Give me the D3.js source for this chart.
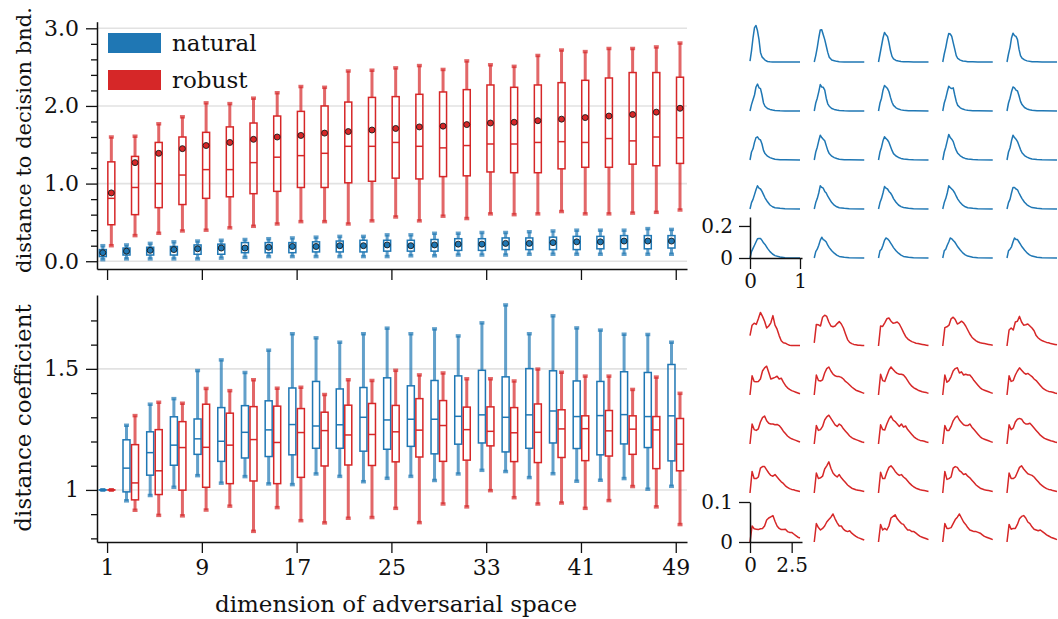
<!DOCTYPE html>
<html>
<head>
<meta charset="utf-8">
<script src="https://cdn.jsdelivr.net/npm/d3@7"></script>
<style>
  body { margin: 0; background: #fff; }
  svg { display: block; }
  text { font-family: "DejaVu Serif", serif; fill: #111; }
</style>
</head>
<body>
<div id="chart"></div>
<script>
const dims = [1, 3, 5, 7, 9, 11, 13, 15, 17, 19, 21, 23, 25, 27, 29, 31, 33, 35, 37, 39, 41, 43, 45, 47, 49];
const xTickValues = [1, 9, 17, 25, 33, 41, 49];

// top panel: distance to decision boundary, natural
const natDistLo = [.02, .03, .03, .03, .03, .04, .05, .06, .06, .06, .06, .06, .06, .07, .07, .08, .08, .08, .09, .09, .09, .09, .09, .09, .09];
const natDistQ1 = [.06, .08, .08, .08, .09, .09, .11, .11, .11, .12, .12, .12, .13, .13, .13, .14, .14, .15, .15, .15, .15, .16, .16, .16, .17];
const natDistMed = [.10, .12, .13, .14, .15, .16, .16, .17, .18, .18, .19, .19, .20, .19, .20, .21, .21, .22, .22, .23, .24, .24, .25, .25, .25];
const natDistQ3 = [.15, .17, .18, .19, .21, .22, .24, .24, .24, .25, .26, .27, .27, .27, .28, .29, .29, .30, .30, .31, .32, .32, .33, .33, .33];
const natDistHi = [.20, .21, .23, .25, .26, .27, .28, .29, .30, .31, .32, .32, .34, .34, .36, .36, .37, .37, .38, .39, .40, .40, .40, .42, .41];
const natDistMean = [.11, .13, .14, .15, .16, .17, .17, .18, .19, .19, .20, .20, .21, .20, .21, .22, .22, .23, .23, .24, .25, .25, .26, .26, .26];

// top panel: robust
const robDistLo = [.20, .33, .36, .39, .40, .43, .45, .48, .51, .51, .48, .52, .57, .52, .58, .55, .61, .60, .61, .64, .61, .61, .62, .63, .66];
const robDistQ1 = [.47, .60, .69, .73, .81, .83, .87, .90, .95, .95, 1.01, 1.03, 1.07, 1.06, 1.09, 1.10, 1.15, 1.14, 1.14, 1.19, 1.21, 1.21, 1.25, 1.23, 1.26];
const robDistMed = [.81, .95, 1.00, 1.11, 1.18, 1.18, 1.27, 1.34, 1.36, 1.39, 1.48, 1.48, 1.53, 1.48, 1.46, 1.49, 1.51, 1.51, 1.53, 1.54, 1.53, 1.58, 1.55, 1.60, 1.59];
const robDistQ3 = [1.28, 1.35, 1.53, 1.60, 1.66, 1.73, 1.78, 1.87, 1.93, 2.00, 2.05, 2.11, 2.12, 2.15, 2.18, 2.21, 2.27, 2.24, 2.27, 2.30, 2.33, 2.36, 2.43, 2.43, 2.37];
const robDistHi = [1.60, 1.61, 1.77, 1.86, 2.04, 2.03, 2.10, 2.17, 2.25, 2.24, 2.45, 2.46, 2.49, 2.52, 2.47, 2.58, 2.53, 2.51, 2.65, 2.72, 2.70, 2.74, 2.74, 2.76, 2.81];
const robDistMean = [.88, 1.27, 1.39, 1.45, 1.49, 1.53, 1.57, 1.60, 1.62, 1.65, 1.67, 1.69, 1.71, 1.73, 1.74, 1.76, 1.78, 1.79, 1.81, 1.83, 1.85, 1.87, 1.89, 1.92, 1.97];

// bottom panel: distance coefficient, natural
const natCoefLo = [1, .955, .977, 1.011, 1.059, 1.028, 1.055, 1.025, 1.022, 1.066, 1.056, 1.034, 1.048, 1.056, 1.039, 1.066, 1.081, 1.076, 1.051, 1.067, 1.036, 1.040, 1.047, 1.003, 1.015];
const natCoefQ1 = [1, .992, 1.061, 1.102, 1.147, 1.118, 1.132, 1.138, 1.145, 1.172, 1.172, 1.160, 1.168, 1.180, 1.149, 1.189, 1.194, 1.157, 1.172, 1.194, 1.171, 1.145, 1.190, 1.175, 1.120];
const natCoefMed = [1, 1.090, 1.154, 1.185, 1.211, 1.201, 1.238, 1.248, 1.270, 1.264, 1.269, 1.300, 1.289, 1.292, 1.292, 1.304, 1.310, 1.300, 1.310, 1.326, 1.303, 1.307, 1.311, 1.303, 1.306];
const natCoefQ3 = [1, 1.207, 1.240, 1.302, 1.293, 1.340, 1.348, 1.368, 1.421, 1.448, 1.417, 1.423, 1.463, 1.430, 1.452, 1.471, 1.494, 1.467, 1.501, 1.492, 1.450, 1.448, 1.488, 1.485, 1.518];
const natCoefHi = [1, 1.267, 1.354, 1.377, 1.493, 1.537, 1.485, 1.577, 1.645, 1.628, 1.610, 1.645, 1.668, 1.645, 1.665, 1.636, 1.690, 1.764, 1.645, 1.719, 1.669, 1.660, 1.643, 1.642, 1.610];

// bottom panel: robust
const robCoefLo = [1, .916, .895, .893, .917, .933, .829, .927, .873, .864, .883, .886, .924, .865, .942, .930, .997, .968, .942, .946, .924, .956, 1.014, .930, .857];
const robCoefQ1 = [1, .959, .981, .999, 1.011, 1.026, 1.037, 1.026, 1.052, 1.099, 1.103, 1.101, 1.116, 1.136, 1.118, 1.123, 1.182, 1.117, 1.113, 1.134, 1.121, 1.140, 1.147, 1.088, 1.079];
const robCoefMed = [1, 1.029, 1.079, 1.175, 1.176, 1.185, 1.208, 1.196, 1.237, 1.245, 1.227, 1.229, 1.240, 1.247, 1.266, 1.249, 1.242, 1.236, 1.238, 1.252, 1.253, 1.244, 1.251, 1.248, 1.189];
const robCoefQ3 = [1, 1.187, 1.249, 1.282, 1.354, 1.317, 1.344, 1.346, 1.336, 1.321, 1.350, 1.357, 1.349, 1.377, 1.369, 1.342, 1.343, 1.340, 1.355, 1.331, 1.306, 1.328, 1.306, 1.303, 1.295];
const robCoefHi = [1, 1.307, 1.362, 1.358, 1.419, 1.410, 1.455, 1.420, 1.424, 1.394, 1.455, 1.452, 1.494, 1.475, 1.483, 1.459, 1.459, 1.450, 1.499, 1.486, 1.470, 1.470, 1.415, 1.466, 1.399];

// small multiples: density of distances (natural), one curve per dimension
const natDensX = [0, 0.03, 0.06, 0.09, 0.12, 0.15, 0.18, 0.21, 0.24, 0.27, 0.30, 0.35, 0.40, 0.45, 0.50, 0.60, 0.70, 1.0];
const natDens = [
  [0.006, 0.07, 0.15, 0.215, 0.228, 0.195, 0.14, 0.06, 0.032, 0.022, 0.012, 0.003, 0.001, 0, 0, 0, 0, 0],
  [0, 0.04, 0.09, 0.15, 0.20, 0.202, 0.17, 0.14, 0.10, 0.06, 0.03, 0.012, 0.008, 0.004, 0.002, 0, 0, 0],
  [0, 0.05, 0.10, 0.15, 0.185, 0.17, 0.16, 0.12, 0.07, 0.035, 0.02, 0.01, 0.006, 0.003, 0.002, 0.001, 0, 0],
  [0, 0.05, 0.09, 0.14, 0.178, 0.175, 0.16, 0.12, 0.08, 0.04, 0.022, 0.012, 0.006, 0.004, 0.002, 0.001, 0, 0],
  [0, 0.05, 0.09, 0.15, 0.18, 0.165, 0.16, 0.14, 0.08, 0.04, 0.024, 0.013, 0.007, 0.004, 0.002, 0.001, 0, 0],
  [0, 0.04, 0.07, 0.10, 0.15, 0.168, 0.145, 0.14, 0.10, 0.05, 0.03, 0.016, 0.01, 0.006, 0.003, 0.001, 0, 0],
  [0, 0.05, 0.08, 0.12, 0.165, 0.15, 0.148, 0.13, 0.08, 0.045, 0.03, 0.016, 0.01, 0.006, 0.003, 0.001, 0, 0],
  [0, 0.05, 0.08, 0.13, 0.16, 0.15, 0.14, 0.12, 0.085, 0.055, 0.035, 0.02, 0.012, 0.007, 0.004, 0.002, 0.001, 0],
  [0, 0.05, 0.08, 0.12, 0.155, 0.145, 0.14, 0.145, 0.10, 0.06, 0.035, 0.02, 0.012, 0.007, 0.004, 0.002, 0.001, 0],
  [0, 0.05, 0.08, 0.12, 0.15, 0.145, 0.13, 0.125, 0.095, 0.06, 0.04, 0.022, 0.013, 0.008, 0.005, 0.002, 0.001, 0],
  [0, 0.05, 0.07, 0.11, 0.14, 0.145, 0.13, 0.125, 0.10, 0.06, 0.04, 0.024, 0.015, 0.009, 0.005, 0.002, 0.001, 0],
  [0, 0.05, 0.08, 0.12, 0.155, 0.14, 0.13, 0.12, 0.09, 0.06, 0.04, 0.024, 0.015, 0.009, 0.005, 0.002, 0.001, 0],
  [0, 0.05, 0.08, 0.12, 0.145, 0.135, 0.125, 0.11, 0.085, 0.06, 0.04, 0.025, 0.016, 0.01, 0.006, 0.003, 0.001, 0],
  [0, 0.05, 0.08, 0.12, 0.16, 0.14, 0.13, 0.115, 0.085, 0.06, 0.042, 0.026, 0.016, 0.01, 0.006, 0.003, 0.001, 0],
  [0, 0.05, 0.075, 0.12, 0.155, 0.14, 0.13, 0.115, 0.09, 0.065, 0.045, 0.028, 0.018, 0.011, 0.006, 0.003, 0.001, 0],
  [0, 0.04, 0.06, 0.09, 0.12, 0.145, 0.13, 0.125, 0.11, 0.09, 0.07, 0.045, 0.025, 0.014, 0.008, 0.004, 0.002, 0],
  [0, 0.04, 0.065, 0.10, 0.145, 0.135, 0.13, 0.11, 0.10, 0.08, 0.065, 0.04, 0.024, 0.014, 0.008, 0.004, 0.002, 0],
  [0, 0.04, 0.065, 0.10, 0.14, 0.13, 0.125, 0.11, 0.10, 0.085, 0.065, 0.042, 0.025, 0.015, 0.009, 0.004, 0.002, 0],
  [0, 0.04, 0.065, 0.10, 0.145, 0.135, 0.125, 0.115, 0.10, 0.08, 0.062, 0.04, 0.024, 0.014, 0.008, 0.004, 0.002, 0],
  [0, 0.04, 0.06, 0.10, 0.135, 0.135, 0.125, 0.12, 0.10, 0.082, 0.065, 0.042, 0.026, 0.016, 0.009, 0.004, 0.002, 0],
  [0, 0.04, 0.06, 0.08, 0.10, 0.12, 0.122, 0.122, 0.11, 0.095, 0.085, 0.06, 0.04, 0.025, 0.015, 0.006, 0.002, 0],
  [0, 0.04, 0.055, 0.08, 0.11, 0.13, 0.115, 0.11, 0.10, 0.08, 0.065, 0.045, 0.03, 0.018, 0.01, 0.004, 0.002, 0],
  [0, 0.045, 0.055, 0.08, 0.11, 0.125, 0.12, 0.11, 0.095, 0.08, 0.065, 0.045, 0.03, 0.018, 0.01, 0.004, 0.002, 0],
  [0, 0.045, 0.055, 0.08, 0.10, 0.125, 0.12, 0.11, 0.10, 0.085, 0.07, 0.05, 0.032, 0.02, 0.012, 0.005, 0.002, 0],
  [0, 0.045, 0.055, 0.07, 0.10, 0.125, 0.115, 0.115, 0.10, 0.085, 0.07, 0.05, 0.032, 0.02, 0.012, 0.005, 0.002, 0]
];

// small multiples: density of distances (robust)
const robDensX = [0, 0.125, 0.25, 0.375, 0.5, 0.625, 0.75, 0.875, 1.0, 1.125, 1.25, 1.375, 1.5, 1.625, 1.75, 1.875, 2.0, 2.125, 2.25, 2.375, 2.5, 2.625, 2.75, 2.875, 3.0];
const robDens = [
  [0.026, 0.052, 0.057, 0.054, 0.068, 0.084, 0.074, 0.062, 0.045, 0.050, 0.058, 0.076, 0.052, 0.042, 0.026, 0.013, 0.008, 0.007, 0.004, 0.002, 0.001, 0.001, 0.001, 0.001, 0.001],
  [0.008, 0.054, 0.053, 0.050, 0.072, 0.077, 0.074, 0.060, 0.050, 0.048, 0.050, 0.056, 0.061, 0.055, 0.045, 0.030, 0.016, 0.009, 0.006, 0.004, 0.003, 0.002, 0.002, 0.001, 0.001],
  [0, 0.050, 0.049, 0.058, 0.068, 0.070, 0.062, 0.057, 0.058, 0.060, 0.055, 0.045, 0.034, 0.024, 0.018, 0.014, 0.011, 0.009, 0.007, 0.006, 0.005, 0.004, 0.003, 0.002, 0.001],
  [0, 0.046, 0.048, 0.052, 0.068, 0.072, 0.066, 0.055, 0.058, 0.062, 0.058, 0.050, 0.040, 0.030, 0.022, 0.017, 0.013, 0.010, 0.008, 0.007, 0.006, 0.005, 0.004, 0.003, 0.002],
  [0, 0.040, 0.045, 0.040, 0.060, 0.062, 0.074, 0.060, 0.052, 0.053, 0.055, 0.050, 0.045, 0.038, 0.026, 0.020, 0.016, 0.013, 0.011, 0.009, 0.008, 0.006, 0.005, 0.004, 0.003],
  [0, 0.048, 0.034, 0.033, 0.034, 0.040, 0.060, 0.068, 0.072, 0.056, 0.040, 0.042, 0.044, 0.047, 0.040, 0.042, 0.032, 0.024, 0.018, 0.014, 0.011, 0.009, 0.007, 0.005, 0.003],
  [0, 0.050, 0.036, 0.035, 0.038, 0.055, 0.066, 0.070, 0.060, 0.052, 0.048, 0.046, 0.046, 0.044, 0.040, 0.034, 0.030, 0.025, 0.020, 0.016, 0.012, 0.010, 0.008, 0.006, 0.004],
  [0, 0.052, 0.036, 0.034, 0.048, 0.062, 0.070, 0.064, 0.058, 0.054, 0.052, 0.052, 0.050, 0.044, 0.036, 0.028, 0.022, 0.018, 0.015, 0.012, 0.010, 0.008, 0.007, 0.006, 0.004],
  [0, 0.050, 0.032, 0.036, 0.046, 0.060, 0.066, 0.068, 0.055, 0.058, 0.050, 0.052, 0.050, 0.050, 0.044, 0.036, 0.030, 0.024, 0.018, 0.014, 0.012, 0.010, 0.008, 0.006, 0.004],
  [0, 0.048, 0.034, 0.036, 0.050, 0.060, 0.068, 0.062, 0.056, 0.052, 0.054, 0.050, 0.046, 0.040, 0.036, 0.030, 0.024, 0.018, 0.014, 0.011, 0.009, 0.008, 0.007, 0.005, 0.004],
  [0, 0.050, 0.036, 0.034, 0.038, 0.055, 0.066, 0.070, 0.058, 0.052, 0.050, 0.050, 0.048, 0.049, 0.046, 0.040, 0.032, 0.026, 0.020, 0.016, 0.013, 0.011, 0.009, 0.007, 0.005],
  [0, 0.046, 0.034, 0.036, 0.044, 0.060, 0.068, 0.072, 0.064, 0.056, 0.048, 0.044, 0.050, 0.046, 0.038, 0.032, 0.026, 0.020, 0.016, 0.013, 0.011, 0.009, 0.007, 0.005, 0.004],
  [0, 0.048, 0.036, 0.035, 0.050, 0.062, 0.070, 0.060, 0.056, 0.050, 0.044, 0.050, 0.042, 0.045, 0.036, 0.030, 0.024, 0.018, 0.014, 0.011, 0.009, 0.008, 0.007, 0.005, 0.004],
  [0, 0.046, 0.034, 0.034, 0.044, 0.058, 0.066, 0.070, 0.060, 0.054, 0.048, 0.046, 0.046, 0.050, 0.042, 0.036, 0.030, 0.024, 0.018, 0.014, 0.012, 0.010, 0.008, 0.006, 0.004],
  [0, 0.048, 0.036, 0.040, 0.055, 0.062, 0.064, 0.062, 0.054, 0.050, 0.050, 0.052, 0.046, 0.040, 0.034, 0.028, 0.022, 0.018, 0.014, 0.012, 0.010, 0.008, 0.007, 0.005, 0.004],
  [0, 0.054, 0.036, 0.036, 0.040, 0.062, 0.066, 0.066, 0.058, 0.050, 0.044, 0.042, 0.046, 0.040, 0.034, 0.028, 0.024, 0.018, 0.014, 0.011, 0.009, 0.008, 0.006, 0.005, 0.004],
  [0, 0.050, 0.036, 0.038, 0.042, 0.060, 0.068, 0.078, 0.062, 0.050, 0.044, 0.040, 0.046, 0.038, 0.032, 0.026, 0.020, 0.016, 0.012, 0.010, 0.008, 0.007, 0.006, 0.005, 0.004],
  [0, 0.052, 0.036, 0.036, 0.052, 0.064, 0.068, 0.062, 0.054, 0.048, 0.044, 0.046, 0.040, 0.036, 0.030, 0.024, 0.019, 0.015, 0.012, 0.010, 0.008, 0.007, 0.006, 0.005, 0.004],
  [0, 0.054, 0.034, 0.036, 0.040, 0.062, 0.066, 0.064, 0.056, 0.052, 0.046, 0.048, 0.042, 0.038, 0.032, 0.026, 0.020, 0.016, 0.012, 0.010, 0.008, 0.007, 0.006, 0.005, 0.004],
  [0, 0.050, 0.036, 0.036, 0.040, 0.052, 0.064, 0.068, 0.060, 0.054, 0.048, 0.046, 0.044, 0.040, 0.034, 0.028, 0.022, 0.018, 0.014, 0.011, 0.009, 0.008, 0.006, 0.005, 0.004],
  [0, 0.040, 0.033, 0.032, 0.031, 0.033, 0.034, 0.040, 0.055, 0.060, 0.063, 0.066, 0.052, 0.040, 0.034, 0.031, 0.031, 0.032, 0.026, 0.024, 0.024, 0.020, 0.016, 0.012, 0.010],
  [0, 0.046, 0.036, 0.030, 0.034, 0.040, 0.050, 0.056, 0.062, 0.070, 0.058, 0.048, 0.040, 0.040, 0.032, 0.028, 0.026, 0.028, 0.022, 0.018, 0.014, 0.011, 0.009, 0.007, 0.005],
  [0, 0.044, 0.030, 0.034, 0.030, 0.040, 0.060, 0.064, 0.068, 0.058, 0.052, 0.046, 0.044, 0.036, 0.030, 0.030, 0.026, 0.026, 0.022, 0.018, 0.014, 0.012, 0.010, 0.008, 0.006],
  [0, 0.046, 0.034, 0.034, 0.036, 0.046, 0.056, 0.062, 0.070, 0.060, 0.050, 0.044, 0.036, 0.030, 0.028, 0.026, 0.026, 0.024, 0.022, 0.018, 0.014, 0.012, 0.010, 0.008, 0.006],
  [0, 0.044, 0.032, 0.034, 0.034, 0.044, 0.058, 0.064, 0.066, 0.060, 0.050, 0.046, 0.038, 0.032, 0.030, 0.028, 0.030, 0.026, 0.022, 0.018, 0.015, 0.012, 0.010, 0.008, 0.006]
];

const BLUE = "#1f77b4", RED = "#d62728";
const W = 1058, H = 619;

const svg = d3.select("#chart").append("svg")
    .attr("width", W)
    .attr("height", H);

const x = d3.scaleLinear().domain([0.15, 49.95]).range([97, 687]);
const yTop = d3.scaleLinear().domain([-0.1, 3.085]).range([269, 21.7]);
const yBot = d3.scaleLinear().domain([0.785, 1.805]).range([542, 295]);

function styleAxis(g, fontSize) {
    g.selectAll("path.domain").attr("stroke", "#111").attr("stroke-width", 1.5);
    g.selectAll(".tick line").attr("stroke", "#111").attr("stroke-width", 1.3);
    g.selectAll(".tick text")
        .style("font-family", "'DejaVu Serif', serif")
        .style("font-size", fontSize + "px")
        .attr("fill", "#111");
}

function drawFrame(y, majors, minors, fmt, withXLabels) {
    // grid
    svg.append("g").selectAll("line")
        .data(majors)
        .join("line")
        .attr("x1", 97).attr("x2", 687)
        .attr("y1", d => y(d)).attr("y2", d => y(d))
        .attr("stroke", "#e2e2e2")
        .attr("stroke-width", 1.6);

    // minor y ticks
    const gMinor = svg.append("g")
        .attr("transform", "translate(97,0)")
        .call(d3.axisLeft(y).tickValues(minors).tickSize(6).tickFormat(""));
    gMinor.select("path.domain").remove();
    styleAxis(gMinor, 22);

    const gy = svg.append("g")
        .attr("transform", "translate(97,0)")
        .call(d3.axisLeft(y).tickValues(majors).tickSize(11).tickSizeOuter(0).tickPadding(7).tickFormat(fmt));
    styleAxis(gy, 22);

    const xAxis = d3.axisBottom(x).tickValues(xTickValues).tickSize(11).tickSizeOuter(0).tickPadding(6);
    if (!withXLabels) xAxis.tickFormat("");
    const gx = svg.append("g")
        .attr("transform", `translate(0,${y.range()[0]})`)
        .call(xAxis);
    styleAxis(gx, 22);
}

function drawBoxes(y, lo, q1, med, q3, hi, mean, color, offset) {
    const g = svg.append("g");
    const boxW = 7, capW = 5;
    const rows = dims.map((d, i) => ({
        cx: x(d + offset), lo: lo[i], q1: q1[i], med: med[i], q3: q3[i], hi: hi[i],
        mean: mean ? mean[i] : null
    }));

    const whisk = g.append("g")
        .attr("stroke", color)
        .attr("stroke-opacity", 0.7)
        .attr("stroke-width", 3);
    whisk.selectAll(".wu").data(rows).join("line")
        .attr("x1", d => d.cx).attr("x2", d => d.cx)
        .attr("y1", d => y(d.hi)).attr("y2", d => y(d.q3));
    whisk.selectAll(".wl").data(rows).join("line")
        .attr("x1", d => d.cx).attr("x2", d => d.cx)
        .attr("y1", d => y(d.q1)).attr("y2", d => y(d.lo));
    whisk.selectAll(".cu").data(rows).join("line")
        .attr("x1", d => d.cx - capW / 2).attr("x2", d => d.cx + capW / 2)
        .attr("y1", d => y(d.hi)).attr("y2", d => y(d.hi))
        .attr("stroke-width", 3.5);
    whisk.selectAll(".cl").data(rows).join("line")
        .attr("x1", d => d.cx - capW / 2).attr("x2", d => d.cx + capW / 2)
        .attr("y1", d => y(d.lo)).attr("y2", d => y(d.lo))
        .attr("stroke-width", 3.5);

    g.selectAll("rect").data(rows).join("rect")
        .attr("x", d => d.cx - boxW / 2)
        .attr("width", boxW)
        .attr("y", d => y(d.q3))
        .attr("height", d => Math.max(0.01, y(d.q1) - y(d.q3)))
        .attr("fill", "none")
        .attr("stroke", color)
        .attr("stroke-width", 1.5);

    g.selectAll(".med").data(rows).join("line")
        .attr("class", "med")
        .attr("x1", d => d.cx - boxW / 2).attr("x2", d => d.cx + boxW / 2)
        .attr("y1", d => y(d.med)).attr("y2", d => y(d.med))
        .attr("stroke", color)
        .attr("stroke-width", 1.5);

    if (mean) {
        g.selectAll("circle").data(rows).join("circle")
            .attr("cx", d => d.cx)
            .attr("cy", d => y(d.mean))
            .attr("r", 3)
            .attr("fill", color)
            .attr("stroke", "#1a1a1a")
            .attr("stroke-width", 0.9);
    }
}

// top panel
drawFrame(yTop, [0, 1, 2, 3], d3.range(1, 15).filter(i => i % 5 !== 0).map(i => i * 0.2), d3.format(".1f"), false);
drawBoxes(yTop, natDistLo, natDistQ1, natDistMed, natDistQ3, natDistHi, natDistMean, BLUE, -0.36);
drawBoxes(yTop, robDistLo, robDistQ1, robDistMed, robDistQ3, robDistHi, robDistMean, RED, 0.36);

// bottom panel
drawFrame(yBot, [1, 1.5], [0.8, 0.9, 1.1, 1.2, 1.3, 1.4, 1.6, 1.7], d => d === 1 ? "1" : "1.5", true);
drawBoxes(yBot, natCoefLo, natCoefQ1, natCoefMed, natCoefQ3, natCoefHi, null, BLUE, -0.36);
drawBoxes(yBot, robCoefLo, robCoefQ1, robCoefMed, robCoefQ3, robCoefHi, null, RED, 0.36);

// legend
const legend = svg.append("g");
[["natural", BLUE], ["robust", RED]].forEach(([label, c], i) => {
    legend.append("rect")
        .attr("x", 108).attr("y", 33 + i * 37)
        .attr("width", 53).attr("height", 20)
        .attr("fill", c);
    legend.append("text")
        .attr("x", 172).attr("y", 43 + i * 37)
        .attr("dy", "0.35em")
        .style("font-size", "23px")
        .text(label);
});

// axis titles
svg.append("text")
    .attr("transform", "translate(31,140) rotate(-90)")
    .attr("text-anchor", "middle")
    .style("font-size", "21px")
    .text("distance to decision bnd.");
svg.append("text")
    .attr("transform", "translate(31,418) rotate(-90)")
    .attr("text-anchor", "middle")
    .style("font-size", "23px")
    .text("distance coefficient");
svg.append("text")
    .attr("x", 396).attr("y", 612)
    .attr("text-anchor", "middle")
    .style("font-size", "23px")
    .text("dimension of adversarial space");

// small multiples
function drawGrid(xs, curves, color, baseY0, xMax, yMax, yH, xTicks, yTicks, xFmt, yFmt) {
    curves.forEach((vals, i) => {
        const row = Math.floor(i / 5), col = i % 5;
        const x0 = 750 + col * 64.25;
        const base = baseY0 + row * 49;
        const sx = d3.scaleLinear().domain([0, xMax]).range([x0, x0 + 50]);
        const sy = d3.scaleLinear().domain([0, yMax]).range([base, base - yH]);
        const line = d3.line().x(d => sx(d[0])).y(d => sy(d[1]));
        svg.append("path")
            .datum(xs.map((v, j) => [v, vals[j]]))
            .attr("d", line)
            .attr("fill", "none")
            .attr("stroke", color)
            .attr("stroke-width", 1.5)
            .attr("stroke-linejoin", "round");

        if (row === 4 && col === 0) {
            const axY = d3.scaleLinear().domain([0, yTicks.top]).range([base, base - yTicks.px]);
            const gy = svg.append("g").attr("transform", `translate(${x0},0)`)
                .call(d3.axisLeft(axY).tickValues(yTicks.vals).tickSize(11).tickSizeOuter(0).tickPadding(6).tickFormat(yFmt));
            styleAxis(gy, 20);
            const axX = d3.scaleLinear().domain([0, xTicks.top]).range([x0, x0 + 52]);
            const gx = svg.append("g").attr("transform", `translate(0,${base})`)
                .call(d3.axisBottom(axX).tickValues(xTicks.vals).tickSize(11).tickSizeOuter(0).tickPadding(5).tickFormat(xFmt));
            styleAxis(gx, 20);
        }
    });
}

drawGrid(natDensX, natDens, BLUE, 62, 1, 0.2, 32,
    { top: 1.04, vals: [0, 1] }, { top: 0.256, px: 41, vals: [0, 0.2] },
    d => d === 0 ? "0" : "1", d => d === 0 ? "0" : "0.2");
drawGrid(robDensX, robDens, RED, 346, 3, 0.1, 40,
    { top: 3.12, vals: [0, 2.5] }, { top: 0.1, px: 40, vals: [0, 0.1] },
    d => d === 0 ? "0" : "2.5", d => d === 0 ? "0" : "0.1");
</script>
</body>
</html>
